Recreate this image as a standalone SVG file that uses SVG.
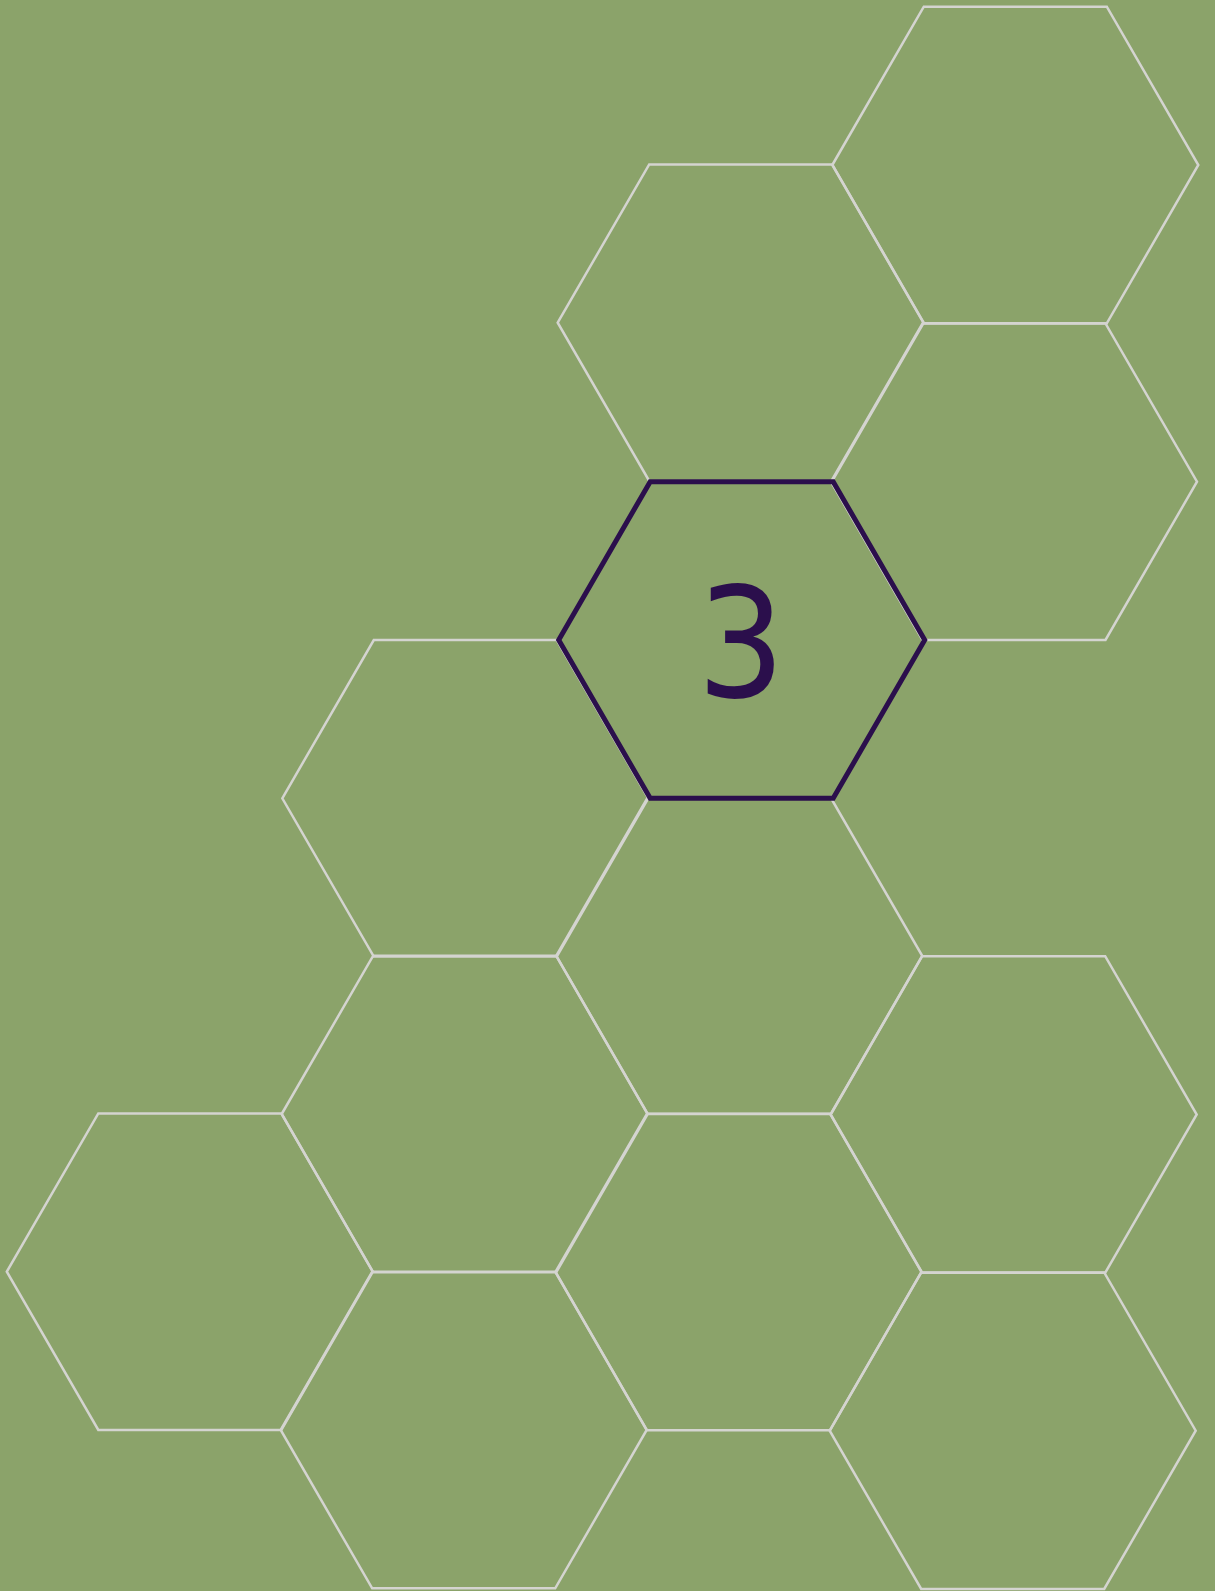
<svg xmlns="http://www.w3.org/2000/svg" width="1215" height="1591" viewBox="0 0 1215 1591">
<style>
.hex{fill:none;stroke:#d4d4d0;stroke-width:2.5;stroke-linejoin:miter}
.sel{fill:none;stroke:#2b0f4c;stroke-width:5;stroke-linejoin:miter}
.lbl{font-family:"DejaVu Sans Condensed","DejaVu Sans",sans-serif;font-stretch:condensed;font-size:153px;fill:#2b0f4c;text-anchor:middle}
</style>
<rect x="0" y="0" width="1215" height="1591" fill="#8ba36a"/>
<g id="hex-a"><polygon class="hex" points="832.3,165 923.8,6.7 1106.8,6.7 1198.3,165 1106.8,323.3 923.8,323.3"/></g>
<g id="hex-b"><polygon class="hex" points="557.7,322.7 649.2,164.4 832.2,164.4 923.7,322.7 832.2,481 649.2,481"/></g>
<g id="hex-c"><polygon class="hex" points="831,481.7 922.5,323.4 1105.5,323.4 1197,481.7 1105.5,640 922.5,640"/></g>
<g id="hex-e"><polygon class="hex" points="282.3,798.3 373.8,640 556.8,640 648.3,798.3 556.8,956.6 373.8,956.6"/></g>
<g id="hex-f"><polygon class="hex" points="556.2,955.8 647.7,797.5 830.7,797.5 922.2,955.8 830.7,1114.1 647.7,1114.1"/></g>
<g id="hex-g"><polygon class="hex" points="830.7,1114.5 922.2,956.2 1105.2,956.2 1196.7,1114.5 1105.2,1272.8 922.2,1272.8"/></g>
<g id="hex-h"><polygon class="hex" points="281.7,1114 373.2,955.7 556.2,955.7 647.7,1114 556.2,1272.3 373.2,1272.3"/></g>
<g id="hex-i"><polygon class="hex" points="6.8,1271.7 98.3,1113.4 281.3,1113.4 372.8,1271.7 281.3,1430 98.3,1430"/></g>
<g id="hex-j"><polygon class="hex" points="555.5,1272 647,1113.7 830,1113.7 921.5,1272 830,1430.3 647,1430.3"/></g>
<g id="hex-k"><polygon class="hex" points="829.7,1430.7 921.2,1272.4 1104.2,1272.4 1195.7,1430.7 1104.2,1589 921.2,1589"/></g>
<g id="hex-l"><polygon class="hex" points="280.7,1430 372.2,1271.7 555.2,1271.7 646.7,1430 555.2,1588.3 372.2,1588.3"/></g>
<g id="hex-d"><polygon class="sel" points="558.7,640 650.2,481.7 833.2,481.7 924.7,640 833.2,798.3 650.2,798.3"/><text class="lbl" x="741" y="697">3</text></g>
<g id="connectors"/>
</svg>
